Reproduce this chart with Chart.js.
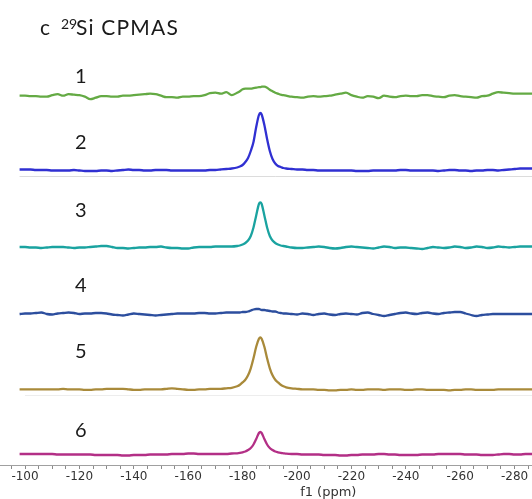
<!DOCTYPE html>
<html>
<head>
<meta charset="utf-8">
<script src="https://cdn.jsdelivr.net/npm/chart.js@4.4.1/dist/chart.umd.min.js"></script>
<style>
  html, body { margin: 0; padding: 0; background: #fff; }
  #wrap { position: relative; width: 532px; height: 499px; }
</style>
</head>
<body>
<div id="wrap"><canvas id="c" width="532" height="499"></canvas></div>
<script>
// Chemical shift sampling points (ppm); denser around the -186 ppm resonance
const ppm = [
  -98,-100,-102,-104,-106,-108,-110,-112,-114,-116,-118,-120,-122,-124,-126,-128,-130,-132,-134,-136,
  -138,-140,-142,-144,-146,-148,-150,-152,-154,-156,-158,-160,-162,-164,-166,-168,-170,-172,-174,-176,
  -178,-179,-180,-181,-182,-183,-184,-185,-186,-186.5,-187,-188,-189,-190,-191,-192,-193,-194,-195,-196,
  -198,-200,-202,-204,-206,-208,-210,-212,-214,-216,-218,-220,-222,-224,-226,-228,-230,-232,-234,-236,
  -238,-240,-242,-244,-246,-248,-250,-252,-254,-256,-258,-260,-262,-264,-266,-268,-270,-272,-274,-276,
  -278,-280,-282,-284,-286,-288
];

// 29Si CPMAS intensities (arbitrary units) for samples 1–6
const cpmas1 = [
  1,1,0.5,0.5,0,0,1.5,2.5,1,2.5, 2,1.5,0,-2.5,-1,0.5,0.5,0,0,1, 1,1.5,2,2.5,3,2.5,1,-0.5,-0.5,-1, 0,0,0.5,0.5,1.5,3.5,4,3,4.5,1.5,
  4,5.5,7.5,8,8,8,8.5,9,9.5,9.5, 10,10,9,7,5.5,4,3,2,1.5,1,
  0,-0.5,-1,0,0.5,0,0.5,1,2,3, 4,1.5,0,-1,0.5,0,-1.5,1,0,-0.5, 0.5,1,0.5,0.5,1.5,1.5,0.5,0,-0.5,1, 1.5,0.5,0,-0.5,-1,0.5,1,3,4.5,4, 3.5,3,3,3,3,3
];
const cpmas2 = [
  0.5,0.5,0.5,0,0,0,-0.5,-0.5,-0.5,-0.5, 0,-0.5,-1,-1,-1,-0.5,-0.5,-1,-0.5,0, 0.5,0,0,-0.5,-0.5,0,0,0,-0.5,-0.5, -0.5,-0.5,-0.5,-0.5,-0.5,0,0,0.5,1,1.5,
  2.5,3.5,5,8,12,19,28,43,55,57, 55.5,45,31,19,11,6.5,4,3,2,1.5,
  1,0.5,0.5,0,0,-0.5,-0.5,-0.5,-0.5,-0.5, -0.5,-0.5,-1,-1,-1,-0.5,-0.5,-0.5,-0.5,-0.5, 0,0,-0.5,-0.5,-0.5,-0.5,-0.5,-1,-0.5,0, 0,-0.5,-0.5,-1,-0.5,-0.5,0,0,-0.5,0, 0.5,1,1.5,1.5,1.5,1.5
];
const cpmas3 = [
  0.5,0.5,0,0,-0.5,0,0.5,0.5,0.5,0, -0.5,0,0,0.5,1,1.5,1.5,0.5,-0.5,-0.5, -1,-0.5,0,0,0.5,0.5,1,0,-0.5,-0.5, -1,-1,0,0.5,0.5,0.5,1,1,1,1,
  1.5,2,3,4.5,7,11.5,20,32,43.5,45, 43.5,32,20,11.5,7,4.5,3,2,1.5,1,
  0,-0.5,-0.5,0,0.5,1,0.5,-0.5,-1,-0.5, 0.5,1,0.5,0,-0.5,-1,0,1,0.5,-0.5, 0,0,-0.5,-1,-1.5,-0.5,0.5,0,-0.5,0, 1,0.5,-0.5,0,1,0.5,-0.5,0,1,0.5, 0,0.5,1,1,1,1
];
const cpmas4 = [
  0,0.5,0.5,1,1.5,0,-0.5,0.5,1,1.5, 1,0,0.5,0.5,1,1,0.5,-0.5,-1,-1.5, -0.5,0.5,0,-0.5,-1,-1.5,-1,-0.5,0,0.5, 0.5,0.5,0.5,1,1,0.5,0.5,1,1.5,1.5,
  1.5,1.5,2,2,2.5,3.5,4.5,5,5,4.5, 4,4,3.5,3,2.5,2.5,1.5,1,0.5,0.5,
  0,-0.5,0.5,0,-1,0,0.5,-0.5,-1,0, 0.5,0,-0.5,1,1.5,0,-1,-2,-1,0, 1,1.5,0.5,0,1,1.5,0.5,0,1,1.5, 2,2,0.5,-1,-2,-1,-0.5,0,0,0, 0,0,0,0,0,0
];
const cpmas5 = [
  0,0,0,0,0,0,0,0,0.5,0, 0,0,-0.5,-0.5,0,0,0.5,0.5,0.5,0.5, 0,-0.5,-0.5,0,0,0,0,0.5,1,0.5, 0,-0.5,-0.5,0,0,0.5,0.5,0.5,1,1.5,
  3,4.5,7,9.5,14,21,31,42.5,50.5,52, 50.5,42.5,31,21,14,9.5,7,4.5,3,2,
  1,0.5,0,0,0,-0.5,-0.5,-1,-1,-0.5, -0.5,0,-0.5,-0.5,0,0,0,-0.5,0,0, 0,-0.5,-0.5,0,0,-0.5,-0.5,-0.5,-0.5,-1, -0.5,-0.5,0,0,-0.5,-0.5,-0.5,-0.5,0,0, 0,0,0,0,0,0
];
const cpmas6 = [
  0.5,0.5,0.5,0.5,0.5,0.5,0.5,0,0,0, 0,0,0,0,-0.5,-0.5,-0.5,-0.5,-0.5,-1, -1,-0.5,-0.5,-0.5,0,0,0,0,0.5,0.5, 0.5,1,1,0.5,0.5,0.5,0.5,0.5,0.5,1,
  1.2,1.6,2.2,3,4.5,6.5,10,15.5,21.5,22.5, 21.5,15.5,10,6.5,4.5,3,2.2,1.6,1.2,0.8,
  0.5,0.5,0,0,0,0,-0.5,-0.5,-0.5,-1, -1,-0.5,-0.5,0,0,0,0.5,0.5,0,0, -0.5,-0.5,-0.5,-0.5,0,0,0,0.5,0.5,0.5, 0.5,0.5,0,0,0,-0.5,-0.5,-0.5,0,0.5, 0.5,0,0,0.5,0.5,0.5
];

const traceNames = ['1', '2', '3', '4', '5', '6'];
const majorTicks = [-100, -120, -140, -160, -180, -200, -220, -240, -260, -280];

// Stacking layout: vertical offset of each trace and of its number label (y-scale units)
const series = [cpmas1, cpmas2, cpmas3, cpmas4, cpmas5, cpmas6];
const colors = ['#64aa44', '#3030d2', '#1aa3a0', '#2c4e9e', '#a98a3a', '#b32f86'];
const offsets = [368.3, 295, 217.5, 151, 75.7, 10.5];
const numberY = [389.5, 323, 255, 180, 114, 35];

const datasets = series.map((vals, i) => ({
  label: traceNames[i],
  data: ppm.map((p, k) => ({ x: p, y: offsets[i] + vals[k] })),
  borderColor: colors[i],
  borderWidth: 2.3,
  pointRadius: 0,
  cubicInterpolationMode: 'monotone',
  fill: false
}));

const decor = {
  id: 'decor',
  beforeDatasetsDraw(chart) {
    const { ctx, scales: { x, y } } = chart;
    ctx.save();
    ctx.lineWidth = 1;
    [[295, -98, '#dcdcdc'], [75.7, -100, '#ededed']].forEach(([v, from, col]) => {
      const yy = Math.round(y.getPixelForValue(v - 5.5)) + 0.5;
      ctx.strokeStyle = col;
      ctx.beginPath();
      ctx.moveTo(x.getPixelForValue(from), yy);
      ctx.lineTo(chart.width, yy);
      ctx.stroke();
    });
    ctx.restore();
  },
  afterDraw(chart) {
    const { ctx, scales: { x, y } } = chart;
    ctx.save();
    ctx.fillStyle = '#1a1a1a';
    // panel title
    ctx.textBaseline = 'alphabetic';
    ctx.textAlign = 'left';
    ctx.font = '21px Lato';
    ctx.fillText('c', 40, 35);
    ctx.font = '14px Lato';
    ctx.fillText('29', 61, 28.5);
    ctx.font = '21px Lato';
    ctx.letterSpacing = '1.2px';
    ctx.fillText('Si CPMAS', 76, 35);
    ctx.letterSpacing = '0px';
    // trace numbers
    ctx.font = '20px Lato';
    ctx.textAlign = 'center';
    traceNames.forEach((t, i) => {
      ctx.fillText(t, x.getPixelForValue(-120.5), y.getPixelForValue(numberY[i]) + 7);
    });
    // axis title
    ctx.fillStyle = '#333';
    ctx.font = '13px "DejaVu Sans"';
    ctx.fillText('f1 (ppm)', x.getPixelForValue(-211.5), 496);
    ctx.restore();
  }
};

new Chart(document.getElementById('c'), {
  type: 'line',
  data: { datasets },
  options: {
    responsive: false,
    animation: false,
    devicePixelRatio: 1,
    layout: { padding: 0 },
    plugins: { legend: { display: false }, tooltip: { enabled: false } },
    scales: {
      x: {
        type: 'linear',
        min: -286.4,
        max: -90.8,
        reverse: true,
        afterFit(scale) { scale.height = 34; },
        border: { display: true, color: '#a0a0a0', width: 1 },
        grid: { drawOnChartArea: false, drawTicks: true, tickLength: 4, color: '#8a8a8a' },
        ticks: {
          stepSize: 5,
          autoSkip: false,
          includeBounds: false,
          maxRotation: 0,
          padding: 1,
          color: '#333',
          font: { family: 'DejaVu Sans', size: 12 },
          callback: (v) => majorTicks.includes(v) ? String(v) : ''
        }
      },
      y: { display: false, min: 0, max: 465 }
    }
  },
  plugins: [decor]
});
</script>
</body>
</html>
